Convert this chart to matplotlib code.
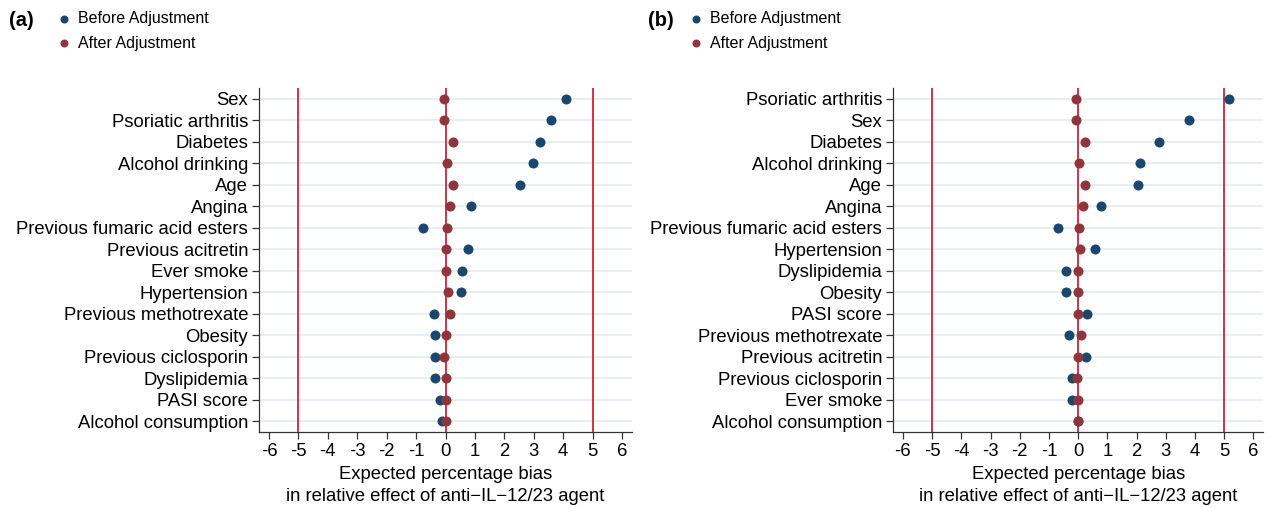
import matplotlib
matplotlib.use("Agg")
import matplotlib.pyplot as plt

plt.rcParams['font.family'] = ['Liberation Sans', 'DejaVu Sans']

# Panel (a)
labels_a = ["Sex", "Psoriatic arthritis", "Diabetes", "Alcohol drinking", "Age",
            "Angina", "Previous fumaric acid esters", "Previous acitretin",
            "Ever smoke", "Hypertension", "Previous methotrexate", "Obesity",
            "Previous ciclosporin", "Dyslipidemia", "PASI score", "Alcohol consumption"]
before_a = [4.10, 3.58, 3.21, 2.96, 2.53, 0.85, -0.77, 0.76,
            0.56, 0.51, -0.38, -0.37, -0.36, -0.35, -0.20, -0.11]
after_a = [-0.05, -0.06, 0.27, 0.06, 0.25, 0.16, 0.04, 0.01,
           0.01, 0.08, 0.15, 0.01, -0.05, 0.00, 0.02, 0.02]

# Panel (b)
labels_b = ["Psoriatic arthritis", "Sex", "Diabetes", "Alcohol drinking", "Age",
            "Angina", "Previous fumaric acid esters", "Hypertension",
            "Dyslipidemia", "Obesity", "PASI score", "Previous methotrexate",
            "Previous acitretin", "Previous ciclosporin", "Ever smoke", "Alcohol consumption"]
before_b = [5.15, 3.81, 2.76, 2.12, 2.05, 0.79, -0.69, 0.58,
            -0.41, -0.41, 0.31, -0.31, 0.28, -0.22, -0.21, 0.01]
after_b = [-0.09, -0.06, 0.24, 0.03, 0.22, 0.15, 0.03, 0.08,
           -0.01, -0.01, 0.01, 0.10, 0.01, -0.03, 0.00, 0.01]

ref_lines = [-5, 0, 5]
xticks = list(range(-6, 7))
xlabel = "Expected percentage bias\nin relative effect of anti\u2212IL\u221212/23 agent"

NAVY = "#1a476f"
MAROON = "#90353b"
REDLINE = "#c8102e"
GRID = "#e6edf2"
FS = 13.3

fig = plt.figure(figsize=(12.7, 5.08), dpi=100)
ax_a = fig.add_axes([259.3 / 1270, 1 - 432 / 508, (631.7 - 259.3) / 1270, (432 - 88) / 508])
ax_b = fig.add_axes([893.3 / 1270, 1 - 432 / 508, (1263 - 893.3) / 1270, (432 - 88) / 508])


def draw(ax, labels, before, after, tag, tagx, legx):
    n = len(labels)
    pos = list(range(1, n + 1))
    for p in pos:
        ax.axhline(p, color=GRID, lw=1.3, zorder=0)
    for v in ref_lines:
        ax.axvline(v, color=REDLINE, lw=1.2, zorder=1)
    hb = ax.scatter(before, pos, s=52, color=NAVY, zorder=3, linewidths=0, label="Before Adjustment")
    ha = ax.scatter(after, pos, s=52, color=MAROON, zorder=4, linewidths=0, label="After Adjustment")
    ax.set_ylim(n + 0.5, 0.5)
    ax.set_xlim(-6.33, 6.33)
    ax.set_yticks(pos)
    ax.set_yticklabels(labels, fontsize=FS)
    ax.set_xticks(xticks)
    ax.set_xticklabels([str(t) for t in xticks], fontsize=FS)
    ax.tick_params(axis='both', direction='out', length=5, width=0.9, color='#333333', pad=3)
    for s in ['top', 'right']:
        ax.spines[s].set_visible(False)
    for s in ['left', 'bottom']:
        ax.spines[s].set_color('#333333')
        ax.spines[s].set_linewidth(0.9)
    ax.set_xlabel(xlabel, fontsize=FS, labelpad=4, linespacing=1.42)
    fig.text(tagx / 1270, 1 - 21 / 508, tag, fontsize=14.5, fontweight='bold', va='center', ha='left')
    ax.legend(handles=[hb, ha], loc='upper left', bbox_to_anchor=(legx / 1270, 1 - 11 / 508),
              bbox_transform=fig.transFigure, frameon=False, fontsize=11.5,
              handletextpad=0.3, labelspacing=0.6, borderaxespad=0, borderpad=0,
              handlelength=1.2, markerscale=0.8)


draw(ax_a, labels_a, before_a, after_a, "(a)", 9, 54)
draw(ax_b, labels_b, before_b, after_b, "(b)", 648, 686)

fig.savefig("out.png", dpi=100)
